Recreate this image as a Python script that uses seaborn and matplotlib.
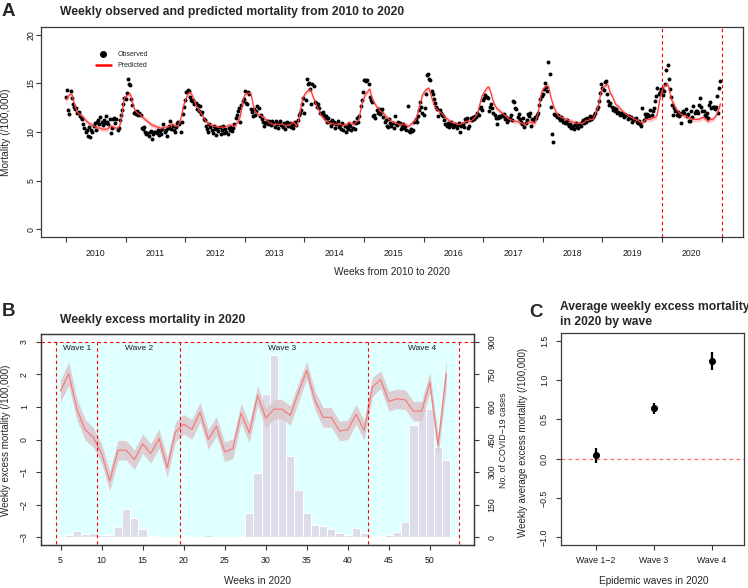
import matplotlib
matplotlib.use("Agg")
import matplotlib.pyplot as plt
import seaborn as sns
import numpy as np
import pandas as pd
from matplotlib.lines import Line2D

# ---------------- data ----------------
years = [2010, 2011, 2012, 2013, 2014, 2015, 2016, 2017, 2018, 2019, 2020]

obs_2010 = [13.6, 14.3, 12.3, 11.9, 14.2, 13.5, 12.9, 12.6, 12.4, 12.5, 12.0, 12.1, 11.6,
            11.5, 11.3, 10.8, 10.4, 10.0, 10.2, 9.6, 10.5, 9.5, 10.2, 10.0, 10.6, 10.9,
            10.2, 11.0, 11.2, 10.8, 11.5, 11.0, 10.7, 11.2, 10.9, 11.6, 11.0, 10.8, 11.3,
            9.9, 10.4, 11.3, 11.4, 10.9, 11.3, 10.2, 10.4, 11.2, 11.8, 12.3, 12.9, 13.5]
obs_2011 = [13.4, 14.0, 15.5, 14.9, 14.8, 13.4, 12.8, 12.0, 12.1, 11.9, 12.2, 11.8, 12.0,
            11.7, 10.4, 10.3, 10.5, 10.0, 9.8, 9.9, 9.6, 10.0, 10.1, 9.3, 9.8, 10.0,
            10.0, 9.9, 10.2, 9.7, 10.1, 9.8, 10.3, 10.8, 10.0, 10.2, 9.6, 10.4, 10.6,
            11.1, 10.3, 10.6, 10.2, 10.0, 10.5, 10.9, 11.0, 10.8, 10.0, 11.0, 11.9, 12.6]
obs_2012 = [13.3, 14.1, 14.3, 14.2, 13.6, 13.3, 13.2, 13.3, 12.9, 13.0, 12.4, 12.8, 12.2,
            12.7, 11.9, 12.1, 11.3, 11.2, 10.6, 10.3, 10.0, 10.8, 10.5, 10.2, 9.9, 10.6,
            10.3, 9.7, 10.4, 10.1, 10.5, 9.8, 10.2, 10.6, 9.9, 10.3, 10.0, 9.8, 10.4,
            10.2, 10.5, 10.1, 10.4, 10.8, 11.4, 11.7, 12.2, 12.5, 11.0, 12.8, 13.2, 13.4]
obs_2013 = [14.2, 13.0, 12.9, 14.1, 13.9, 12.4, 12.1, 11.6, 12.4, 11.8, 12.2, 12.7, 12.5,
            11.6, 11.8, 11.3, 11.0, 10.6, 10.9, 11.1, 10.8, 11.1, 11.0, 10.7, 11.1, 10.9,
            10.5, 11.1, 10.8, 10.4, 10.9, 11.1, 10.7, 10.5, 10.9, 10.3, 10.8, 11.0, 10.6,
            10.9, 10.5, 10.7, 10.4, 10.8, 11.0, 10.7, 11.2, 11.8, 12.0, 12.3, 12.9, 13.5]
obs_2014 = [12.0, 13.3, 15.5, 14.9, 15.0, 14.4, 12.9, 14.9, 14.7, 13.1, 13.0, 12.6, 12.9,
            12.5, 12.0, 11.9, 12.1, 11.7, 11.4, 11.6, 11.0, 11.4, 11.0, 10.6, 11.2, 10.9,
            11.0, 10.4, 10.8, 11.1, 10.5, 10.7, 10.3, 10.9, 10.2, 10.6, 10.0, 10.5, 10.3,
            10.8, 10.6, 10.2, 10.4, 11.0, 10.3, 10.9, 11.4, 11.0, 11.6, 12.7, 13.3, 14.1]
obs_2015 = [15.4, 15.3, 15.2, 15.4, 14.9, 13.6, 13.3, 13.1, 11.6, 11.7, 11.4, 12.3, 12.0,
            12.4, 11.9, 12.1, 12.4, 11.5, 11.0, 11.2, 10.6, 10.5, 11.3, 10.9, 10.6, 10.9,
            10.4, 11.6, 10.8, 10.7, 11.0, 10.9, 10.3, 10.5, 10.8, 10.4, 10.6, 10.2, 12.7,
            10.1, 10.0, 10.3, 10.1, 10.2, 11.0, 11.3, 11.0, 11.6, 12.3, 13.1, 12.6, 12.0]
obs_2016 = [11.8, 12.5, 13.9, 15.9, 16.0, 15.5, 15.3, 14.2, 13.9, 13.4, 13.0, 12.6, 12.4,
            11.6, 12.3, 12.0, 11.7, 11.6, 11.2, 10.8, 10.6, 10.9, 10.5, 10.8, 11.0, 10.7,
            10.5, 10.8, 10.6, 10.4, 10.7, 10.9, 10.0, 10.6, 10.8, 10.5, 11.3, 11.1, 11.4,
            10.4, 10.6, 11.4, 11.2, 11.5, 11.3, 11.6, 11.5, 12.0, 11.8, 12.5, 12.6, 12.3]
obs_2017 = [13.3, 13.5, 13.8, 13.6, 13.5, 12.2, 12.6, 12.9, 12.5, 12.0, 11.8, 11.4, 10.8,
            11.4, 11.6, 11.5, 11.8, 11.6, 11.9, 11.3, 11.5, 11.0, 11.2, 11.4, 11.7, 11.2,
            13.2, 13.1, 12.5, 12.4, 11.5, 11.9, 11.3, 11.0, 10.8, 11.4, 10.5, 10.9, 11.2,
            11.9, 11.6, 12.0, 10.6, 11.3, 11.2, 11.5, 11.4, 11.8, 12.0, 12.8, 13.4, 13.7]
obs_2018 = [13.9, 14.4, 15.0, 14.6, 14.2, 17.2, 16.0, 12.6, 9.8, 9.0, 11.9, 11.7, 11.5,
            11.8, 11.4, 11.2, 11.5, 11.3, 11.0, 10.9, 11.0, 11.2, 10.8, 10.6, 10.8, 10.4,
            10.6, 10.3, 10.7, 10.9, 10.5, 10.4, 10.8, 10.6, 11.0, 11.2, 10.9, 11.3, 11.0,
            11.4, 11.2, 11.6, 11.3, 11.4, 11.5, 11.8, 12.0, 12.4, 12.6, 13.2, 14.0, 14.9]
obs_2019 = [14.5, 14.3, 15.1, 15.2, 13.9, 13.2, 12.8, 13.0, 12.6, 12.3, 12.5, 12.2, 12.4,
            12.0, 12.1, 11.8, 12.0, 11.7, 11.9, 11.5, 11.7, 11.8, 11.3, 11.6, 11.4, 11.5,
            11.0, 11.2, 11.3, 11.4, 11.0, 10.9, 11.1, 10.8, 10.6, 12.5, 11.2, 11.9, 11.5,
            11.9, 11.7, 11.6, 12.3, 11.8, 12.2, 12.5, 13.2, 13.7, 14.5, 13.9, 14.1, 14.4]
obs_2020 = [14.4, 13.8, 14.2, 14.9, 16.4, 16.9, 15.5, 14.4, 13.6, 12.8, 11.7, 12.5, 12.2,
            11.7, 12.1, 11.6, 11.9, 10.9, 12.0, 12.2, 12.0, 12.4, 11.6, 11.9, 11.1, 11.1,
            12.2, 11.5, 12.65, 12.0, 12.2, 12.2, 12.0, 12.8, 13.5, 12.6, 12.2, 12.2, 11.7,
            11.6, 12.0, 11.4, 12.8, 13.1, 12.5, 12.55, 12.6, 12.4, 12.6, 13.7, 12.0, 14.5, 15.2]

pred_2010 = [13.3, 13.5, 13.7, 13.8, 13.9, 13.9, 13.5, 13.0, 12.6, 12.3, 12.0, 11.9, 11.8,
             11.7, 11.6, 11.5, 11.4, 11.2, 11.1, 11.0, 10.9, 10.8, 10.8, 10.7, 10.6, 10.6,
             10.5, 10.5, 10.4, 10.4, 10.4, 10.3, 10.3, 10.3, 10.3, 10.3, 10.3, 10.4, 10.5,
             10.6, 10.6, 10.5, 10.5, 10.4, 10.4, 10.4, 10.5, 10.7, 11.2, 11.9, 12.8, 13.5]
pred_2011 = [13.6, 13.7, 13.8, 13.9, 13.9, 13.6, 13.0, 12.6, 12.3, 12.1, 12.0, 11.9, 11.8,
             11.8, 11.6, 11.5, 11.4, 11.3, 11.2, 11.1, 11.0, 10.9, 10.8, 10.7, 10.7, 10.6,
             10.6, 10.5, 10.5, 10.5, 10.4, 10.4, 10.4, 10.4, 10.5, 10.5, 10.5, 10.5, 10.6,
             10.7, 10.8, 10.8, 10.7, 10.6, 10.6, 10.6, 10.7, 11.0, 11.3, 11.8, 12.4, 12.9]
pred_2012 = [13.2, 13.5, 13.8, 14.0, 14.1, 14.0, 13.8, 13.5, 13.2, 12.9, 12.6, 12.4, 12.2,
             12.1, 11.9, 11.7, 11.5, 11.3, 11.1, 11.0, 10.9, 10.8, 10.7, 10.7, 10.6, 10.6,
             10.6, 10.6, 10.5, 10.5, 10.5, 10.5, 10.5, 10.5, 10.5, 10.5, 10.6, 10.6, 10.7,
             10.7, 10.7, 10.6, 10.6, 10.6, 10.7, 10.9, 11.1, 11.3, 11.6, 12.2, 12.9, 13.5]
pred_2013 = [13.8, 13.9, 14.0, 14.0, 14.0, 14.0, 13.6, 13.0, 12.5, 12.1, 12.0, 11.9, 11.8,
             11.7, 11.7, 11.6, 11.5, 11.5, 11.3, 11.2, 11.1, 11.0, 10.9, 10.9, 10.8, 10.8,
             10.8, 10.8, 10.8, 10.8, 10.8, 10.8, 10.8, 10.8, 10.7, 10.7, 10.7, 10.7, 10.7,
             10.7, 10.8, 10.9, 11.0, 11.0, 10.8, 10.6, 10.8, 11.2, 11.8, 12.5, 13.1, 13.6]
pred_2014 = [13.8, 14.0, 14.1, 14.2, 14.3, 14.4, 14.2, 13.8, 13.5, 13.2, 12.9, 12.6, 12.4,
             12.2, 11.8, 11.7, 11.5, 11.4, 11.3, 11.1, 11.0, 11.0, 10.9, 10.9, 10.9, 10.9,
             10.8, 10.8, 10.8, 10.8, 10.8, 10.8, 10.8, 10.7, 10.7, 10.7, 10.7, 10.8, 10.9,
             11.0, 10.9, 10.8, 10.8, 10.8, 10.9, 11.0, 11.1, 11.1, 11.5, 12.2, 12.8, 13.2]
pred_2015 = [13.5, 13.8, 14.0, 14.1, 14.3, 14.4, 14.0, 13.5, 13.2, 13.0, 12.8, 12.6, 12.5,
             12.4, 12.2, 12.1, 12.0, 11.9, 11.8, 11.6, 11.5, 11.4, 11.3, 11.2, 11.1, 11.0,
             11.0, 10.9, 10.9, 10.9, 10.8, 10.8, 10.8, 10.8, 10.8, 10.8, 10.7, 10.7, 10.6,
             10.6, 10.7, 10.8, 10.9, 11.0, 11.1, 11.2, 11.6, 12.0, 12.5, 12.9, 13.3, 13.8]
pred_2016 = [14.0, 14.2, 14.3, 14.4, 14.5, 14.4, 14.0, 13.6, 13.2, 12.8, 12.6, 12.4, 12.3,
             12.2, 12.1, 12.0, 11.9, 11.8, 11.6, 11.5, 11.4, 11.3, 11.2, 11.1, 11.0, 11.0,
             10.9, 10.9, 10.9, 10.8, 10.8, 10.8, 10.8, 10.9, 10.9, 10.9, 11.0, 11.1, 11.1,
             11.1, 11.1, 11.1, 11.2, 11.3, 11.4, 11.5, 11.7, 11.9, 12.3, 12.8, 13.3, 13.7]
pred_2017 = [13.9, 14.1, 14.3, 14.5, 14.6, 14.6, 14.3, 13.9, 13.5, 13.1, 12.8, 12.6, 12.4,
             12.3, 12.2, 12.1, 12.0, 11.9, 11.8, 11.7, 11.6, 11.5, 11.4, 11.3, 11.3, 11.2,
             11.2, 11.1, 11.1, 11.1, 11.1, 11.0, 11.0, 10.9, 10.9, 10.8, 10.8, 10.8, 10.9,
             11.0, 11.1, 11.0, 11.0, 10.9, 10.9, 10.9, 11.2, 11.6, 12.0, 12.8, 13.5, 14.1]
pred_2018 = [14.3, 14.5, 14.6, 14.7, 14.7, 14.7, 14.2, 13.6, 13.2, 12.8, 12.5, 12.2, 12.0,
             11.8, 11.6, 11.6, 11.5, 11.5, 11.4, 11.4, 11.3, 11.3, 11.2, 11.2, 11.1, 11.1,
             11.0, 11.0, 11.0, 10.9, 10.9, 10.9, 10.9, 10.9, 10.9, 10.9, 11.0, 11.1, 11.2,
             11.2, 11.2, 11.3, 11.3, 11.3, 11.3, 11.6, 11.9, 12.2, 12.5, 13.0, 13.6, 14.2]
pred_2019 = [14.4, 14.6, 14.7, 14.8, 14.9, 14.8, 14.4, 14.0, 13.8, 13.6, 13.3, 13.0, 12.8,
             12.7, 12.6, 12.5, 12.3, 12.2, 12.1, 12.0, 11.9, 11.8, 11.7, 11.6, 11.6, 11.5,
             11.5, 11.4, 11.3, 11.3, 11.2, 11.2, 11.1, 11.0, 11.0, 10.9, 11.0, 11.2, 11.3,
             11.3, 11.3, 11.3, 11.3, 11.4, 11.4, 11.5, 11.5, 11.6, 11.9, 12.6, 13.3, 13.8]
pred_2020 = [14.2, 14.5, 14.7, 14.8, 14.9, 14.9, 14.6, 14.1, 13.5, 13.2, 13.0, 12.8, 12.5,
             12.3, 12.2, 12.0, 11.9, 11.8, 11.8, 11.7, 11.7, 11.6, 11.6, 11.5, 11.5, 11.4,
             11.4, 11.3, 11.3, 11.3, 11.3, 11.3, 11.3, 11.3, 11.4, 11.4, 11.5, 11.5, 11.4,
             11.3, 11.2, 11.1, 11.2, 11.3, 11.3, 11.3, 11.4, 11.5, 11.7, 11.9, 12.2, 12.5, 12.9]
pred_ci_half = 0.25

weeks_2020 = list(range(5, 53))
excess_2020 = [1.49, 2.02, 0.92, 0.30, 0.06, -0.43, -1.27, -0.33, -0.33, -0.62, -0.13, -0.43,
               0.03, -0.86, 0.23, 0.47, 0.31, 0.84, 0.00, 0.41, -0.38, -0.28, 0.81, 0.20,
               1.35, 0.66, 0.93, 0.93, 0.74, 1.46, 2.12, 1.20, 0.68, 0.68, 0.26, 0.30,
               0.77, 0.28, 1.61, 1.84, 1.17, 1.25, 1.22, 0.87, 0.87, 1.76, -0.18, 2.02]
excess_ci_half = [0.33, 0.36, 0.33, 0.32, 0.30, 0.30, 0.31, 0.30, 0.30, 0.30, 0.30, 0.30,
                  0.30, 0.30, 0.30, 0.30, 0.30, 0.30, 0.30, 0.30, 0.30, 0.30, 0.30, 0.30,
                  0.30, 0.30, 0.30, 0.30, 0.30, 0.30, 0.28, 0.30, 0.30, 0.30, 0.30, 0.30,
                  0.30, 0.30, 0.30, 0.27, 0.30, 0.30, 0.30, 0.30, 0.30, 0.31, 0.33, 0.43]
cases_2020 = [0, 9, 30, 15, 20, 8, 8, 48, 132, 90, 38, 5,
              1, 0, 0, 4, 0, 0, 10, 3, 0, 0, 0, 112,
              297, 658, 840, 590, 372, 216, 112, 55, 52, 40, 17, 10,
              42, 18, 5, 4, 10, 23, 69, 518, 605, 592, 415, 357]
wave_names = ["Wave 1", "Wave 2", "Wave 3", "Wave 4"]
wave_bounds = [4.5, 9.5, 19.5, 42.5, 53.5]

wave_groups = ["Wave 1\u22122", "Wave 3", "Wave 4"]
wave_mean = [0.04, 0.64, 1.24]
wave_err = [0.09, 0.07, 0.115]

obs_all = [obs_2010, obs_2011, obs_2012, obs_2013, obs_2014, obs_2015,
           obs_2016, obs_2017, obs_2018, obs_2019, obs_2020]
pred_all = [pred_2010, pred_2011, pred_2012, pred_2013, pred_2014, pred_2015,
            pred_2016, pred_2017, pred_2018, pred_2019, pred_2020]

# ---------------- style ----------------
sns.set_theme(style="ticks")
plt.rcParams['font.family'] = ['Liberation Sans', 'DejaVu Sans']
plt.rcParams['axes.unicode_minus'] = True

W, H = 748, 588
fig = plt.figure(figsize=(W / 100, H / 100), dpi=100)
fig.patch.set_facecolor('white')


def rect(l, t, r, b):
    return [l / W, 1 - b / H, (r - l) / W, (b - t) / H]


def fx(x):
    return x / W


def fy(y):
    return 1 - y / H


EDGE = '#3a3a3a'
TXT = '#1a1a1a'
TICK_FS = 6.3
LAB_FS = 7.3
TITLE_FS = 8.7
DASH = (0, (3, 2.6))


def style_axes(ax):
    for s in ax.spines.values():
        s.set_visible(True)
        s.set_color(EDGE)
        s.set_linewidth(0.9)
    ax.tick_params(direction='out', length=3.6, width=0.8, color=EDGE,
                   labelsize=TICK_FS, labelcolor=TXT)
    ax.grid(False)


def mlab(v, fmt):
    return (fmt % v).replace('-', '\u2212')


# ---------------- Panel A ----------------
axA = fig.add_axes(rect(41, 27, 743, 237))
style_axes(axA)
rows = []
for yr, ob, pr in zip(years, obs_all, pred_all):
    n = len(ob)
    for i, (o, p) in enumerate(zip(ob, pr)):
        rows.append((yr + i / n, o, p))
dfA = pd.DataFrame(rows, columns=['t', 'observed', 'predicted'])

axA.fill_between(dfA['t'], dfA['predicted'] - pred_ci_half, dfA['predicted'] + pred_ci_half,
                 color='#ffa3a3', alpha=0.6, lw=0, zorder=1)
sns.scatterplot(data=dfA, x='t', y='observed', color='black', s=8, linewidth=0,
                ax=axA, zorder=2, legend=False)
sns.lineplot(data=dfA, x='t', y='predicted', color='#ff3c3c', lw=0.9, ax=axA,
             zorder=3, legend=False)
for xv in [2020, 2021]:
    axA.axvline(xv, color='red', lw=0.8, ls=DASH, zorder=4)

axA.set_xlim(2009.58, 2021.36)
axA.set_ylim(-0.8, 20.8)
axA.set_xticks(list(range(2010, 2022)))
axA.set_xticklabels([])
axA.set_xticks([y + 0.5 for y in years], minor=True)
axA.set_xticklabels([str(y) for y in years], minor=True)
axA.tick_params(axis='x', which='minor', length=0, pad=8.5, labelsize=TICK_FS, labelcolor=TXT)
axA.set_yticks([0, 5, 10, 15, 20])
axA.set_yticklabels([str(v) for v in [0, 5, 10, 15, 20]], rotation=90, va='center')
axA.tick_params(axis='y', pad=0.5)
axA.set_xlabel('')
axA.set_ylabel('')

handles = [Line2D([], [], marker='o', color='black', ls='none', markersize=4),
           Line2D([], [], color='red', lw=1.8)]
axA.legend(handles, ['Observed', 'Predicted'], loc='upper left',
           bbox_to_anchor=(0.078, 0.885), frameon=False, fontsize=5,
           handlelength=2.2, handletextpad=0.9, labelspacing=0.6,
           borderaxespad=0, borderpad=0)

fig.text(fx(2), fy(11.5), 'A', fontsize=13.5, fontweight='bold', va='center', ha='left')
fig.text(fx(60), fy(12.5), 'Weekly observed and predicted mortality from 2010 to 2020',
         fontsize=TITLE_FS, fontweight='bold', va='center', ha='left')
fig.text(fx(392), fy(272), 'Weeks from 2010 to 2020', fontsize=LAB_FS, ha='center', va='center')
fig.text(fx(6), fy(132), 'Mortality (/100,000)', fontsize=LAB_FS, ha='center', va='center',
         rotation=90)

# ---------------- Panel B ----------------
axBc = fig.add_axes(rect(41, 334, 474, 545))
style_axes(axBc)
axBc.fill_between([4.5, 53.5], 0, 900, color='#e0ffff', lw=0, zorder=0.5)
sns.histplot(x=weeks_2020, weights=cases_2020, discrete=True, color='#dcdcea', alpha=1,
             edgecolor='white', linewidth=0.7, ax=axBc, zorder=1)
axB = axBc.twinx()
style_axes(axB)
axB.patch.set_visible(False)

exc = np.array(excess_2020)
ci = np.array(excess_ci_half)
axB.fill_between(weeks_2020, exc - ci, exc + ci, color='#dcc6ca', alpha=0.85, lw=0, zorder=1)
sns.lineplot(x=weeks_2020, y=excess_2020, color='#ef7f7f', lw=0.9, ax=axB, zorder=2)
axB.axhline(3, color='red', lw=0.8, ls=DASH, zorder=3)
axB.vlines(wave_bounds, -3.2, 3, color='red', lw=0.8, linestyles=[DASH], zorder=3)
for name, xt in zip(wave_names, [7, 14.6, 32, 49]):
    axB.text(xt, 2.79, name, fontsize=6, ha='center', va='center', color=TXT)

axB.set_xlim(2.62, 55.38)
axB.set_ylim(-3.24, 3.24)
axBc.set_ylim(-36, 936)
axBc.set_xticks(list(range(5, 51, 5)))
axBc.set_xticklabels([str(v) for v in range(5, 51, 5)])
axBc.tick_params(axis='x', pad=4)
axBc.yaxis.tick_right()
axBc.set_yticks(list(range(0, 901, 150)))
axBc.set_yticklabels([str(v) for v in range(0, 901, 150)], rotation=90, va='center')
axBc.tick_params(axis='y', pad=6)
axB.yaxis.tick_left()
axB.set_yticks(list(range(-3, 4)))
axB.set_yticklabels([mlab(v, '%d') for v in range(-3, 4)], rotation=90, va='center')
axB.tick_params(axis='y', pad=5)
for a in (axB, axBc):
    a.set_xlabel('')
    a.set_ylabel('')

fig.text(fx(2), fy(311.5), 'B', fontsize=13.5, fontweight='bold', va='center', ha='left')
fig.text(fx(60), fy(319.5), 'Weekly excess mortality in 2020',
         fontsize=TITLE_FS, fontweight='bold', va='center', ha='left')
fig.text(fx(258), fy(581), 'Weeks in 2020', fontsize=LAB_FS, ha='center', va='center')
fig.text(fx(6), fy(440), 'Weekly excess mortality (/100,000)', fontsize=LAB_FS - 0.3,
         ha='center', va='center', rotation=90)
fig.text(fx(503), fy(440), 'No. of COVID\u221219 cases', fontsize=6.4,
         ha='center', va='center', rotation=90)

# ---------------- Panel C ----------------
axC = fig.add_axes(rect(561, 333, 744, 545))
style_axes(axC)
axC.axhline(0, color='#ff6b6b', lw=0.9, ls=DASH, zorder=1)
axC.errorbar([1, 2, 3], wave_mean, yerr=wave_err, fmt='none', ecolor='black',
             elinewidth=1.6, capsize=0, zorder=2)
sns.scatterplot(x=[1, 2, 3], y=wave_mean, color='black', s=26, linewidth=0, ax=axC, zorder=3)
axC.set_xlim(0.4, 3.56)
axC.set_ylim(-1.1, 1.6)
axC.set_xticks([1, 2, 3])
axC.set_xticklabels(wave_groups)
axC.tick_params(axis='x', pad=4)
yt = [-1.0, -0.5, 0.0, 0.5, 1.0, 1.5]
axC.set_yticks(yt)
axC.set_yticklabels([mlab(v, '%.1f') for v in yt], rotation=90, va='center')
axC.tick_params(axis='y', pad=5)
axC.set_xlabel('')
axC.set_ylabel('')

fig.text(fx(529), fy(312.5), 'C', fontsize=13.5, fontweight='bold', va='center', ha='left')
fig.text(fx(560), fy(307.3), 'Average weekly excess mortality',
         fontsize=TITLE_FS, fontweight='bold', va='center', ha='left')
fig.text(fx(560), fy(321.7), 'in 2020 by wave',
         fontsize=TITLE_FS, fontweight='bold', va='center', ha='left')
fig.text(fx(653.5), fy(581), 'Epidemic waves in 2020', fontsize=LAB_FS, ha='center', va='center')
fig.text(fx(523.5), fy(442), 'Weekly average excess mortality (/100,000)', fontsize=LAB_FS - 0.3,
         ha='center', va='center', rotation=90)

fig.savefig('out.png', dpi=100, facecolor='white')
